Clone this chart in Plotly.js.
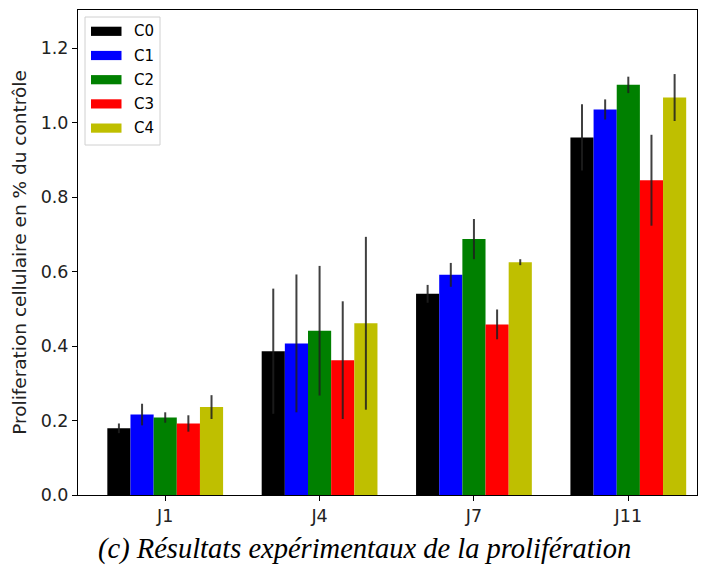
<!DOCTYPE html>
<html>
<head>
<meta charset="utf-8">
<script src="https://cdn.plot.ly/plotly-3.0.1.min.js"></script>
<style>html,body{margin:0;padding:0;background:#fff;}#chart{width:705px;height:565px;}</style>
</head>
<body>
<div id="chart"></div>
<script>
const categories = ["J1", "J4", "J7", "J11"];
const seriesNames = ["C0", "C1", "C2", "C3", "C4"];
const seriesColors = ["#000000", "#0000ff", "#008000", "#ff0000", "#bfbf00"];
const C0 = [0.179, 0.386, 0.540, 0.960];
const C1 = [0.216, 0.407, 0.591, 1.035];
const C2 = [0.208, 0.441, 0.687, 1.101];
const C3 = [0.192, 0.362, 0.458, 0.845];
const C4 = [0.236, 0.461, 0.625, 1.067];
const C0err = [0.013, 0.168, 0.024, 0.089];
const C1err = [0.029, 0.185, 0.032, 0.027];
const C2err = [0.014, 0.174, 0.054, 0.022];
const C3err = [0.022, 0.158, 0.040, 0.122];
const C4err = [0.032, 0.232, 0.008, 0.063];
const yTickVals = [0.0, 0.2, 0.4, 0.6, 0.8, 1.0, 1.2];
const yTickText = ["0.0", "0.2", "0.4", "0.6", "0.8", "1.0", "1.2"];
const yTitle = "Proliferation cellulaire en % du contrôle";
const caption = "(c) Résultats expérimentaux de la prolifération";

const values = [C0, C1, C2, C3, C4];
const errors = [C0err, C1err, C2err, C3err, C4err];

const traces = seriesNames.map((name, i) => ({
  type: "bar",
  name: name,
  x: categories,
  y: values[i],
  marker: {color: seriesColors[i], line: {width: 0}},
  error_y: {type: "data", array: errors[i], visible: true, color: "rgba(30,30,30,0.85)", thickness: 2, width: 0},
  showlegend: false
}));

// Custom matplotlib-style legend
const plotL = 78, plotT = 10, plotW = 619, plotH = 485;
const px = x => (x - plotL) / plotW;
const py = y => 1 - (y - plotT) / plotH;
const shapes = [{
  type: "rect", xref: "paper", yref: "paper",
  x0: px(85), x1: px(160), y0: py(145), y1: py(17),
  line: {color: "#d0d0d0", width: 1}, fillcolor: "rgba(255,255,255,0.8)", layer: "above"
}];
const annotations = [];
seriesNames.forEach((name, i) => {
  const cy = 31.3 + i * 24.2;
  shapes.push({
    type: "rect", xref: "paper", yref: "paper",
    x0: px(91), x1: px(121.5), y0: py(cy + 4.6), y1: py(cy - 4.6),
    line: {width: 0}, fillcolor: seriesColors[i], layer: "above"
  });
  annotations.push({
    xref: "paper", yref: "paper", x: px(132), y: py(cy), xanchor: "left", yanchor: "middle",
    text: name, showarrow: false, font: {family: "DejaVu Sans", size: 15, color: "#000"}
  });
});
annotations.push({
  xref: "paper", yref: "paper", x: px(364), y: py(549), xanchor: "center", yanchor: "middle",
  text: "<i>" + caption + "</i>", showarrow: false,
  font: {family: "Liberation Serif", size: 28.5, color: "#000"}
});

const layout = {
  width: 705, height: 565,
  margin: {l: 78, r: 8, t: 10, b: 70},
  paper_bgcolor: "#ffffff", plot_bgcolor: "#ffffff",
  barmode: "group", bargap: 0.25, bargroupgap: 0,
  font: {family: "DejaVu Sans", size: 17, color: "#222"},
  xaxis: {
    type: "category", range: [-0.565, 3.445],
    showline: true, mirror: true, linecolor: "#000", linewidth: 1,
    ticks: "outside", ticklen: 5, tickcolor: "#000", showgrid: false, zeroline: false,
    tickfont: {family: "DejaVu Sans", size: 17.5, color: "#222"}
  },
  yaxis: {
    range: [0, 1.302], tickvals: yTickVals, ticktext: yTickText,
    showline: true, mirror: true, linecolor: "#000", linewidth: 1,
    ticks: "outside", ticklen: 5, tickcolor: "#000", showgrid: false, zeroline: false,
    tickfont: {family: "DejaVu Sans", size: 17.5, color: "#222"},
    title: {text: yTitle, font: {family: "DejaVu Sans", size: 18.5, color: "#222"}, standoff: 9}
  },
  shapes: shapes,
  annotations: annotations
};

Plotly.newPlot("chart", traces, layout, {displayModeBar: false, staticPlot: true});
</script>
</body>
</html>
